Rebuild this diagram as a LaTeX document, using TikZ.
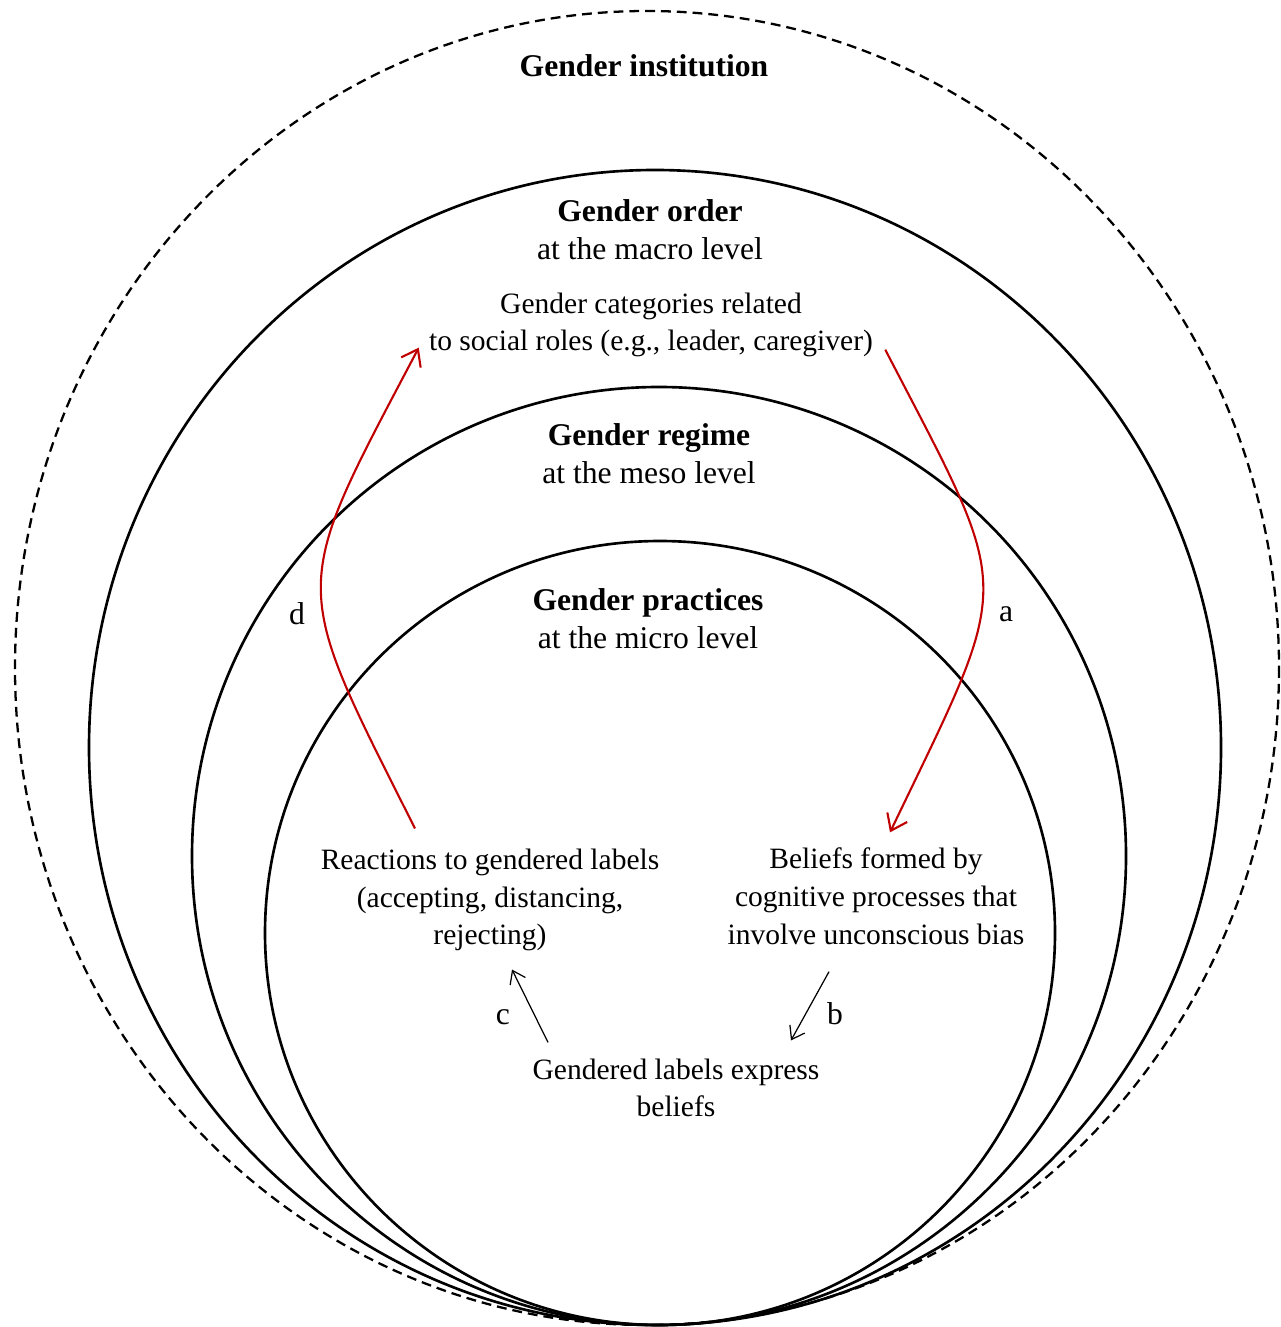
\documentclass[tikz,border=0pt]{standalone}
\usepackage{fontspec}
\setmainfont{Liberation Serif}
\usepackage{xcolor}
\definecolor{gired}{RGB}{192,0,0}
\usetikzlibrary{arrows.meta, calc}

\begin{document}
\begin{tikzpicture}[x=0.02cm, y=-0.02cm,
    ring/.style={draw=black, line width=1.5pt},
    txt/.style={inner sep=0pt, align=center, font=\fontsize{18}{21.5}\selectfont},
    smalltxt/.style={inner sep=0pt, align=center, font=\fontsize{16.8}{21.5}\selectfont},
    letter/.style={inner sep=0pt, font=\fontsize{18}{21.5}\selectfont},
    redarrow/.style={draw=gired, line width=1.2pt, -{Straight Barb[length=0.3cm, width=0.44cm]}},
    thinarrow/.style={draw=black, line width=0.7pt, -{Straight Barb[length=0.24cm, width=0.34cm]}}]
  \useasboundingbox (0,0) rectangle (1280,1327);

  % Nested levels (all touching at the bottom)
  \draw[ring, line width=1.3pt, dash pattern=on 5.6pt off 3.4pt] (647,668) ellipse [x radius=632, y radius=657];
  \draw[ring] (655,747.5) ellipse [x radius=566, y radius=577.5];
  \draw[ring] (659,856) ellipse [x radius=467, y radius=469];
  \draw[ring] (660,933) ellipse [x radius=395, y radius=392];

  % Level titles
  \node[txt, font=\fontsize{18}{21.5}\selectfont\bfseries] (inst) at (644,66) {Gender institution};
  \node[txt] (order) at (650,230) {\textbf{Gender order}\\at the macro level};
  \node[smalltxt] (roles) at (651,325) {Gender categories related\\to social roles (e.g., leader, caregiver)};
  \node[txt] (regime) at (649,454) {\textbf{Gender regime}\\at the meso level};
  \node[txt] (practices) at (648,619) {\textbf{Gender practices}\\at the micro level};

  % Micro-level processes
  \node[smalltxt] (reactions) at (490,900) {Reactions to gendered labels\\(accepting, distancing,\\rejecting)};
  \node[smalltxt] (beliefs) at (876,896) {Beliefs formed by\\cognitive processes that\\involve unconscious bias};
  \node[smalltxt] (labels) at (676,1088) {Gendered labels express\\beliefs};

  % Path labels
  \node[letter] (la) at (1006,614) {a};
  \node[letter] (lb) at (835,1014) {b};
  \node[letter] (lc) at (503,1017) {c};
  \node[letter] (ld) at (297,614) {d};

  % Red loop between macro and micro
  \draw[redarrow] ($(roles.south east)+(12,-8)$)
    .. controls (1015,600) and (1015,572) .. ($(beliefs.north)+(14,-15)$);
  \draw[redarrow] ($(reactions.north)+(-75,-20)$)
    .. controls (289,578) and (289,594) .. ($(roles.south west)+(-10,-10)$);

  % Micro-level steps
  \draw[thinarrow] ($(beliefs.south)+(-47,27)$) -- ($(labels.north)+(115,-18)$);
  \draw[thinarrow] ($(labels.north)+(-128,-16)$) -- ($(reactions.south)+(22,18)$);
\end{tikzpicture}
\end{document}
